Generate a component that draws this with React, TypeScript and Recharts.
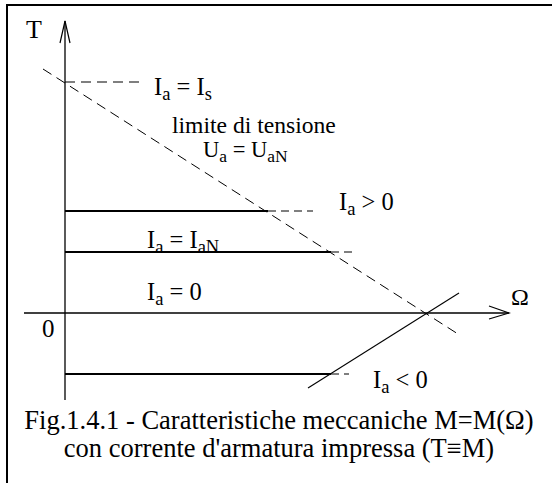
import React from 'react';
import { ComposedChart, Line, XAxis, YAxis, ReferenceDot } from 'recharts';

// Speed Ω (w) and torque T (t), arbitrary units
const omegaAxis = [{ w: -4.1, t: 0 }, { w: 44.4, t: 0 }];
const omegaArrow = [{ w: 42.4, t: 0.7 }, { w: 44.4, t: 0 }, { w: 42.4, t: -0.6 }];
const torqueAxis = [{ w: 0, t: -8.7 }, { w: 0, t: 29.2 }];
const torqueArrow = [{ w: -0.5, t: 27.0 }, { w: 0, t: 29.2 }, { w: 0.5, t: 27.0 }];

// voltage limit Ua = UaN and the generating branch through the no-load speed
const voltageLimit = [{ w: -2.2, t: 24.4 }, { w: 39.3, t: -2.1 }];
const reverseBranch = [{ w: 24.3, t: -7.5 }, { w: 39.4, t: 2.0 }];

// constant-torque characteristics for imposed armature current
const stallLevel = [{ w: 0, t: 23.1 }, { w: 7.7, t: 23.1 }];
const positiveSolid = [{ w: 0, t: 10.2 }, { w: 20.3, t: 10.2 }];
const positiveDash = [{ w: 20.3, t: 10.2 }, { w: 24.8, t: 10.2 }];
const ratedSolid = [{ w: 0, t: 6.1 }, { w: 26.6, t: 6.1 }];
const ratedDash = [{ w: 26.6, t: 6.1 }, { w: 28.9, t: 6.1 }];
const negativeSolid = [{ w: 0, t: -6.1 }, { w: 26.6, t: -6.1 }];
const negativeDash = [{ w: 26.6, t: -6.1 }, { w: 28.4, t: -6.1 }];

const captionLines = [
  'Fig.1.4.1 - Caratteristiche meccaniche M=M(Ω)',
  "con corrente d'armatura impressa (T≡M)",
];

const FONT = 'Liberation Serif';
const BIG = 24.5;
const SUB = 18.5;
const DROP = 5;

type Part = [string, boolean];

const Formula = ({ cx, cy, parts, size = BIG, sub = SUB }: any) => {
  let lowered = false;
  return (
    <text x={cx} y={cy} fill="#000" fontFamily={FONT} fontSize={size}>
      {(parts as Part[]).map(([s, isSub], i) => {
        let dy = 0;
        if (isSub && !lowered) { dy = DROP; lowered = true; }
        else if (!isSub && lowered) { dy = -DROP; lowered = false; }
        return (
          <tspan key={i} dy={dy} fontFamily={FONT} fontSize={isSub ? sub : size}>{s}</tspan>
        );
      })}
    </text>
  );
};

const seg = (data: any[], key: string, width: number, dash?: string) => (
  <Line
    key={key}
    data={data}
    dataKey="t"
    type="linear"
    stroke="#000"
    strokeWidth={width}
    strokeDasharray={dash}
    dot={false}
    activeDot={false}
    isAnimationActive={false}
    legendType="none"
  />
);

const label = (w: number, t: number, parts: Part[], size?: number, sub?: number) => (
  <ReferenceDot
    x={w}
    y={t}
    r={0}
    ifOverflow="visible"
    shape={(p: any) => <Formula cx={p.cx} cy={p.cy} parts={parts} size={size} sub={sub} />}
  />
);

export default function App() {
  return (
    <div style={{ position: 'absolute', left: 0, top: 0, width: 552, height: 483, background: '#fff', overflow: 'hidden', fontFamily: FONT }}>
      <div style={{ position: 'absolute', left: 6, top: 4, width: 600, height: 600, borderLeft: '2px solid #000', borderTop: '2px solid #000' }} />
      <div style={{ position: 'absolute', left: 0, top: 0 }}>
        <ComposedChart width={552} height={483} margin={{ top: 0, right: 0, bottom: 0, left: 0 }}>
          <XAxis dataKey="w" type="number" domain={[-6.5, 48.7]} hide allowDataOverflow />
          <YAxis dataKey="t" type="number" domain={[-17.0, 31.3]} hide allowDataOverflow />
          {seg(omegaAxis, 'ox', 1.5)}
          {seg(omegaArrow, 'oa', 1.2)}
          {seg(torqueAxis, 'tx', 1.3)}
          {seg(torqueArrow, 'ta', 1.2)}
          {seg(voltageLimit, 'vl', 1, '10 6')}
          {seg(reverseBranch, 'rb', 1.1)}
          {seg(stallLevel, 'sl', 1.1, '10 6')}
          {seg(positiveSolid, 'ps', 2)}
          {seg(positiveDash, 'pd', 1.1, '8 5')}
          {seg(ratedSolid, 'rs', 2)}
          {seg(ratedDash, 'rd', 1.1, '8 5')}
          {seg(negativeSolid, 'ns', 2)}
          {seg(negativeDash, 'nd', 1.1, '8 5')}
          {label(-3.9, 27.5, [['T', false]], 26)}
          {label(-2.3, -2.4, [['0', false]], 25)}
          {label(44.6, 0.8, [['Ω', false]], 24)}
          {label(8.9, 21.8, [['I', false], ['a', true], [' = I', false], ['s', true]])}
          {label(10.7, 18.0, [['limite di tensione', false]], 23.6)}
          {label(13.8, 15.6, [['U', false], ['a', true], [' = U', false], ['aN', true]], 22.5, 17.5)}
          {label(27.4, 10.3, [['I', false], ['a', true], [' > 0', false]])}
          {label(8.2, 6.5, [['I', false], ['a', true], [' = I', false], ['aN', true]])}
          {label(8.2, 1.3, [['I', false], ['a', true], [' = 0', false]])}
          {label(30.8, -7.5, [['I', false], ['a', true], [' < 0', false]])}
        </ComposedChart>
      </div>
      <svg width={552} height={483} style={{ position: 'absolute', left: 0, top: 0, pointerEvents: 'none' }}>
        {captionLines.map((line, i) => (
          <text key={i} x={279} y={429 + i * 28} textAnchor="middle" fill="#000" fontFamily={FONT} fontSize={26.5}>
            {line}
          </text>
        ))}
      </svg>
    </div>
  );
}
